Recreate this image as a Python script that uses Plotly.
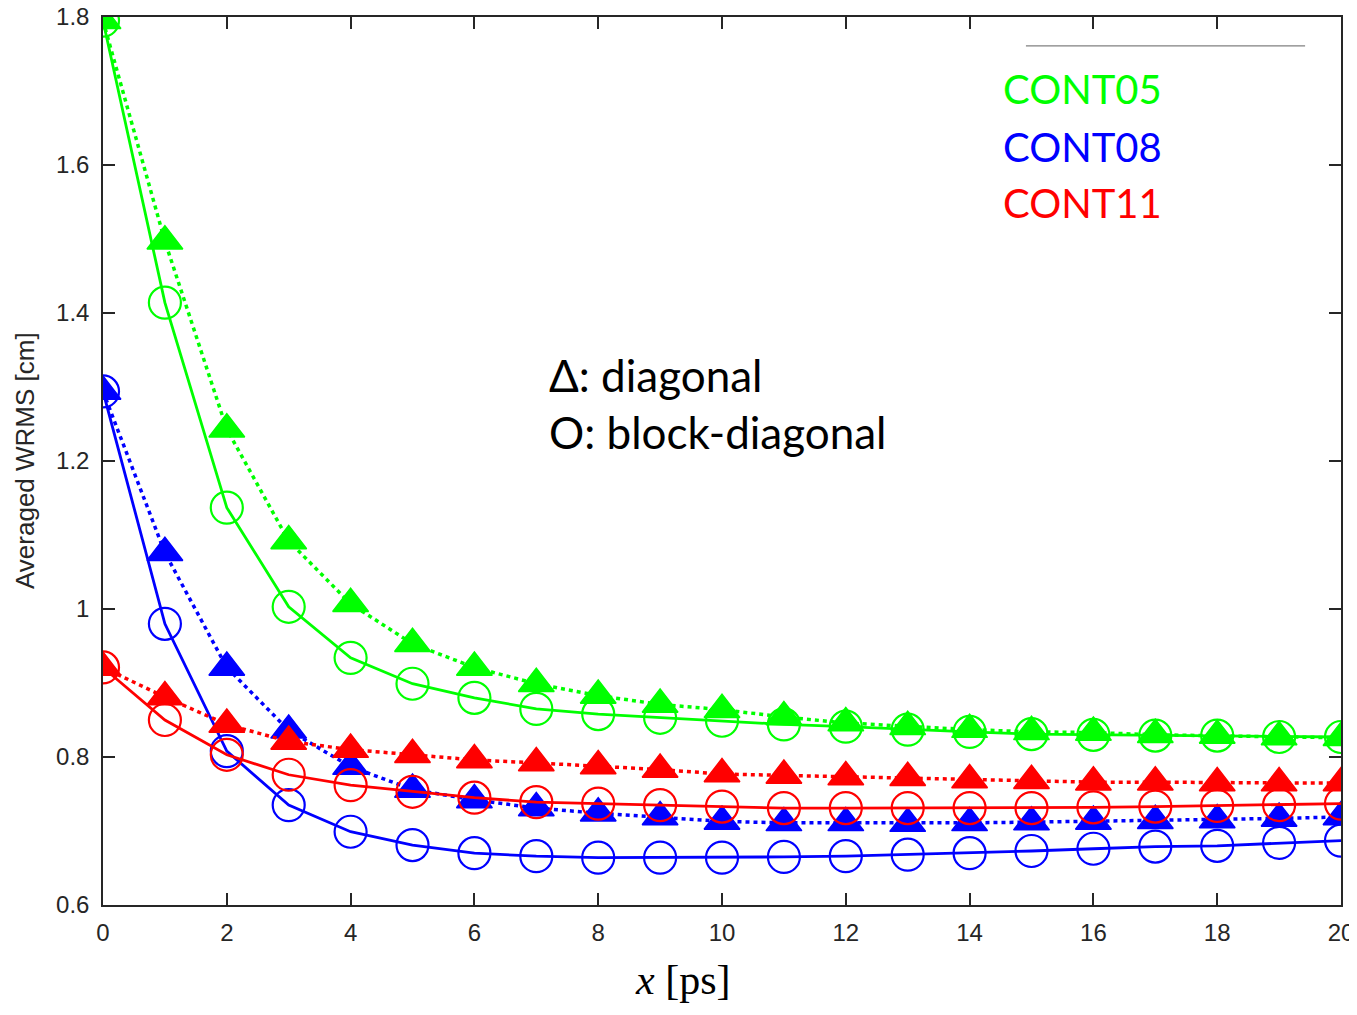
import plotly.graph_objects as go

x = list(range(21))

green_block = [1.795, 1.414, 1.137, 1.003, 0.934, 0.899, 0.880, 0.865, 0.858, 0.853, 0.849,
               0.844, 0.841, 0.837, 0.834, 0.831, 0.830, 0.829, 0.829, 0.827, 0.827]
green_diag = [1.795, 1.497, 1.243, 1.092, 1.007, 0.953, 0.921, 0.899, 0.883, 0.871, 0.864,
              0.854, 0.846, 0.841, 0.837, 0.834, 0.833, 0.830, 0.829, 0.827, 0.826]
blue_block = [1.294, 0.980, 0.808, 0.735, 0.699, 0.681, 0.670, 0.666, 0.664, 0.664, 0.664,
              0.665, 0.666, 0.668, 0.670, 0.673, 0.676, 0.679, 0.680, 0.684, 0.687]
blue_diag = [1.294, 1.076, 0.921, 0.836, 0.787, 0.756, 0.742, 0.731, 0.724, 0.719, 0.713,
             0.711, 0.711, 0.710, 0.711, 0.712, 0.713, 0.714, 0.715, 0.717, 0.719]
red_block = [0.921, 0.850, 0.803, 0.776, 0.762, 0.753, 0.745, 0.739, 0.737, 0.735, 0.733,
             0.731, 0.731, 0.731, 0.731, 0.731, 0.732, 0.733, 0.734, 0.735, 0.737]
red_diag = [0.921, 0.881, 0.844, 0.821, 0.810, 0.803, 0.796, 0.792, 0.788, 0.783, 0.777,
            0.775, 0.773, 0.772, 0.769, 0.768, 0.766, 0.766, 0.765, 0.765, 0.765]

series = [
    ("CONT05", "#00FF00", green_diag, green_block),
    ("CONT08", "#0000FF", blue_diag, blue_block),
    ("CONT11", "#FF0000", red_diag, red_block),
]

x_ticks = list(range(0, 21, 2))
y_ticks = [0.6, 0.8, 1.0, 1.2, 1.4, 1.6, 1.8]
y_tick_labels = ["0.6", "0.8", "1", "1.2", "1.4", "1.6", "1.8"]

fig = go.Figure()
for name, color, diag, block in series:
    fig.add_trace(go.Scatter(
        x=x, y=diag, mode="lines+markers", name=name + " diagonal",
        line=dict(color=color, width=3.5, dash="4px,4px"),
        marker=dict(symbol="triangle-up", size=31, color=color, line=dict(width=1.5, color=color)),
    ))
    fig.add_trace(go.Scatter(
        x=x, y=block, mode="lines+markers", name=name + " block-diagonal",
        line=dict(color=color, width=2.8),
        marker=dict(symbol="circle-open", size=32, color=color, line=dict(width=2.2, color=color)),
    ))

axis_common = dict(
    showline=True, linecolor="#262626", linewidth=1.5, mirror="ticks",
    ticks="inside", ticklen=12, tickwidth=1.5, tickcolor="#262626",
    showgrid=False, zeroline=False, automargin=False, ticklabeloverflow="allow",
    tickfont=dict(family="Liberation Sans, Arial", size=24, color="#262626"),
)

# figure is offset by the page's 8px body margin
fig.update_layout(
    width=1349, height=999,
    margin=dict(l=95, r=16, t=9, b=102),
    paper_bgcolor="white", plot_bgcolor="white",
    showlegend=False,
    xaxis=dict(range=[0, 20], tickvals=x_ticks, ticklabelstandoff=5, **axis_common),
    yaxis=dict(range=[0.6, 1.8], tickvals=y_ticks, ticktext=y_tick_labels,
               ticklabelstandoff=7, **axis_common),
)

fig.add_annotation(x=-0.063, y=0.5, xref="paper", yref="paper", text="Averaged WRMS [cm]",
                   textangle=-90, showarrow=False, xanchor="center", yanchor="middle",
                   font=dict(family="Liberation Sans, Arial", size=26, color="#262626"))

label_font = "Lato, Open Sans, sans-serif"
for i, (name, color, _, _) in enumerate(series):
    fig.add_annotation(x=14.5, y=[1.703, 1.625, 1.548][i], xref="x", yref="y",
                       text=name, showarrow=False, xanchor="left", yanchor="middle",
                       font=dict(family=label_font, size=40, color=color))

fig.add_annotation(x=7.18, y=1.316, xref="x", yref="y", text="Δ: diagonal",
                   showarrow=False, xanchor="left", yanchor="middle",
                   font=dict(family=label_font, size=44, color="black"))
fig.add_annotation(x=7.18, y=1.239, xref="x", yref="y", text="O: block-diagonal",
                   showarrow=False, xanchor="left", yanchor="middle",
                   font=dict(family=label_font, size=44, color="black"))

fig.add_annotation(x=0.468, y=-0.085, xref="paper", yref="paper", text="<i>x</i> [ps]",
                   showarrow=False, xanchor="center", yanchor="middle",
                   font=dict(family="Liberation Serif, Times New Roman", size=42, color="black"))

fig.add_shape(type="line", xref="x", yref="y", x0=14.91, x1=19.42, y0=1.761, y1=1.761,
              line=dict(color="#808080", width=1.2))

fig.write_html("out.html")
